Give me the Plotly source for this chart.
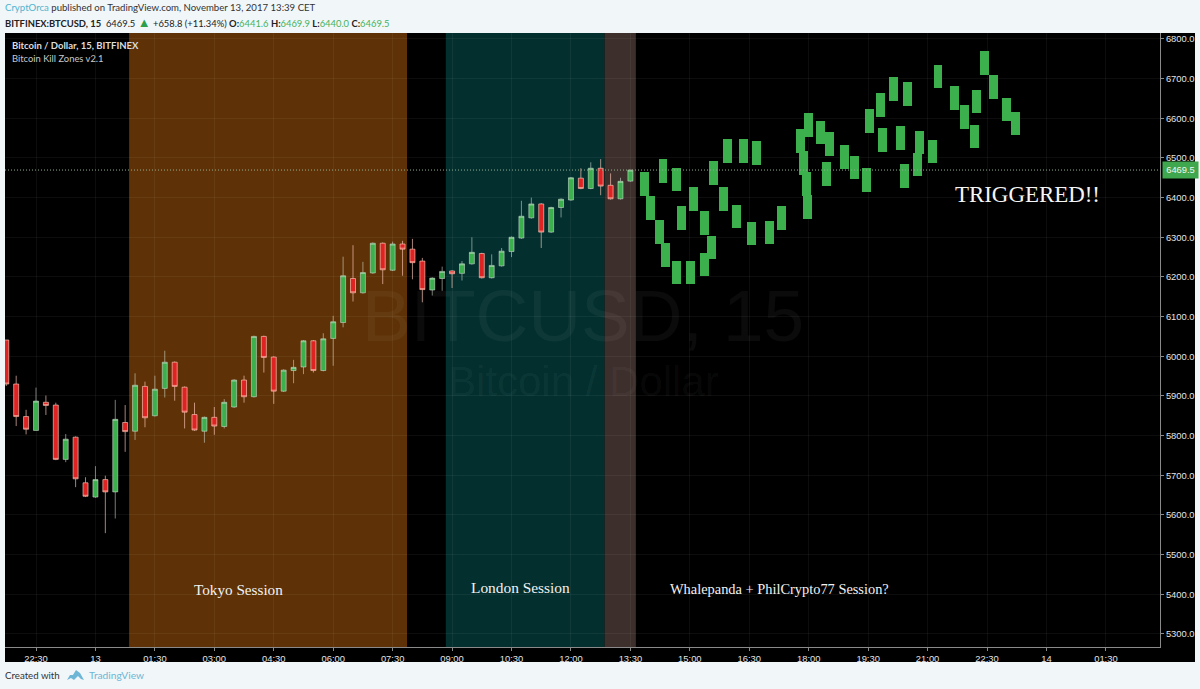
import plotly.graph_objects as go

# --- real 15-minute candles -------------------------------------------------
candle_index = list(range(-3, 61))
opens = [6041,5930,5848,5813,5884,5877,5740,5796,5681,5645,5689,5658,5833,5811,5924,5850,5919,5985,5922,5853,5811,5846,5823,5872,5940,5898,6050,5998,5912,5964,5973,6039,5964,6045,6085,6196,6160,6210,6285,6217,6283,6270,6240,6167,6196,6215,6209,6233,6259,6198,6228,6264,6298,6349,6384,6313,6375,6394,6449,6423,6474,6431,6397,6441.6]
highs = [6041,5951,5865,5921,5901,5883,5804,5798,5695,5723,5699,5890,5877,5957,5936,5951,6014,5987,5924,5883,5848,5872,5892,5942,5951,6052,6052,6000,5967,5991,6041,6041,6058,6102,6251,6280,6238,6287,6287,6289,6291,6296,6248,6199,6226,6217,6240,6300,6261,6257,6273,6302,6392,6400,6386,6377,6398,6452,6474,6489,6497,6461,6450,6469.9]
lows = [5925,5824,5803,5813,5852,5738,5733,5670,5645,5643,5554,5591,5759,5789,5821,5848,5896,5888,5818,5812,5782,5802,5818,5870,5883,5896,5959,5880,5910,5932,5955,5959,5962,5976,6073,6138,6158,6208,6182,6215,6203,6194,6136,6153,6165,6172,6191,6231,6196,6196,6226,6250,6296,6347,6273,6311,6350,6392,6421,6421,6406,6395,6395,6440]
closes = [5930,5848,5816,5887,5876,5740,5791,5691,5647,5689,5658,5841,5810,5927,5845,5917,5985,5924,5859,5814,5846,5824,5884,5940,5898,6050,5997,5912,5965,5972,6039,5964,6044,6087,6203,6160,6211,6285,6218,6283,6270,6236,6168,6197,6214,6208,6233,6262,6198,6229,6265,6300,6353,6384,6313,6375,6396,6450,6423,6474,6429,6397,6441,6469.5]

# --- hand-drawn green blocks that spell a message ---------------------------
block_x = [61.38,62.06,62.92,63.52,64.68,66.05,67.47,68.21,67.47,66.36,65.14,64.61,63.29,68.42,69.36,69.83,70.72,71.41,72.74,72.24,74.00,75.26,77.15,77.50,77.76,77.88,77.96,79.19,80.13,79.80,81.62,82.58,83.79,84.16,85.23,86.57,85.46,87.27,87.93,87.70,89.01,89.14,90.45,91.05,92.72,93.71,94.94,94.74,95.75,96.66,97.92,98.88]
block_high = [6464,6403,6344,6285,6241,6241,6261,6304,6365,6426,6378,6475,6497,6492,6426,6549,6382,6548,6543,6339,6342,6378,6573,6518,6464,6407,6613,6594,6566,6489,6533,6506,6474,6623,6665,6703,6575,6581,6692,6485,6513,6569,6546,6735,6682,6634,6671,6584,6770,6708,6651,6617]
block_low = [6405,6344,6284,6225,6182,6182,6202,6245,6306,6366,6319,6416,6437,6432,6366,6488,6323,6488,6483,6281,6282,6319,6513,6458,6405,6347,6554,6535,6506,6429,6473,6446,6414,6563,6604,6644,6515,6521,6632,6425,6454,6509,6487,6676,6622,6574,6613,6524,6710,6649,6592,6557]

# --- axes and zones ---------------------------------------------------------
x_tick_index = [0,6,12,18,24,30,36,42,48,54,60,66,72,78,84,90,96,102,108]
x_tick_labels = ["22:30","13","01:30","03:00","04:30","06:00","07:30","09:00","10:30","12:00","13:30","15:00","16:30","18:00","19:30","21:00","22:30","14","01:30"]
y_ticks = [5300,5400,5500,5600,5700,5800,5900,6000,6100,6200,6300,6400,6500,6600,6700,6800]
zones = [(9.4,37.45,"#5e3206"),(41.37,57.4,"#03302f"),(57.4,60.55,"#3d302c")]
last_price = 6469.5

PL, PR, PT, PB = 5, 1160, 33, 647
def px(v): return (v - PL) / (PR - PL)
def py(v): return (PB - v) / (PB - PT)

GREEN, RED = "#3bb04d", "#df2323"
fig = go.Figure()
fig.add_trace(go.Candlestick(
    x=candle_index, open=opens, high=highs, low=lows, close=closes,
    increasing=dict(fillcolor=GREEN, line=dict(color="rgba(215,225,215,0.55)", width=1)),
    decreasing=dict(fillcolor=RED, line=dict(color="rgba(255,200,185,0.65)", width=1)),
    whiskerwidth=0, hoverinfo="skip", showlegend=False))
fig.add_trace(go.Bar(
    x=block_x, base=block_low, y=[h - l for h, l in zip(block_high, block_low)],
    width=0.9, marker=dict(color=GREEN, line=dict(width=0)), hoverinfo="skip", showlegend=False))

shapes = [
    dict(type="rect", xref="paper", yref="paper", x0=0, x1=px(1195), y0=py(662), y1=1,
         fillcolor="#000000", line=dict(width=0), layer="below"),
]
for a, b, c in zones:
    shapes.append(dict(type="rect", xref="x", yref="paper", x0=a, x1=b, y0=0, y1=1,
                       fillcolor=c, line=dict(width=0), layer="below"))
shapes.append(dict(type="line", xref="paper", yref="y", x0=0, x1=1, y0=last_price, y1=last_price,
                   line=dict(color="#93ad8f", width=1, dash="1px,2px"), layer="above"))
# TradingView logo
def lp(x, y): return f"{px(x):.5f},{py(y):.5f}"
logo = ("M " + lp(67, 680) + " L " + lp(70, 675) + " L " + lp(73, 675) + " L " + lp(76, 670) + " L " + lp(80, 673)
        + " L " + lp(84, 680) + " L " + lp(81, 679) + " L " + lp(78, 676) + " L " + lp(74, 680) + " L " + lp(71, 678) + " Z")
shapes.append(dict(type="path", xref="paper", yref="paper", path=logo, fillcolor="#6db6d6", line=dict(width=0)))

def note(x, y, text, size, color, family, xanchor="left", **kw):
    return dict(xref="paper", yref="paper", x=px(x), y=py(y), text=text, showarrow=False,
                xanchor=xanchor, yanchor="middle", align="left",
                font=dict(size=size, color=color, family=family), borderpad=0, **kw)

SANS, SERIF, ARIAL = "Lato", "Liberation Serif", "Liberation Sans"
g = "#45b35a"
header2 = ('<b>BITFINEX:BTCUSD, 15</b>  6469.5 <span style="color:#2e9e48;font-size:13px">▲</span> +658.8 (+11.34%) '
           f'<b>O:</b><span style="color:{g}">6441.6</span> <b>H:</b><span style="color:{g}">6469.9</span> '
           f'<b>L:</b><span style="color:{g}">6440.0</span> <b>C:</b><span style="color:{g}">6469.5</span>')
wm = "rgba(255,255,255,0.045)"
annotations = [
    note(4, 8, '<span style="color:#4fb4cf">CryptOrca</span> published on TradingView.com, November 13, 2017 13:39 CET', 9.6, "#333333", SANS),
    note(4, 22, header2, 9.4, "#222222", SANS),
    note(11, 45, "<b>Bitcoin / Dollar, 15, BITFINEX</b>", 9.5, "#dddddd", SANS),
    note(11, 58, "Bitcoin Kill Zones v2.1", 9.4, "#c8c8c8", SANS),
    note(583, 315, "BITCUSD, 15", 73, wm, ARIAL, xanchor="center"),
    note(584, 381, "Bitcoin / Dollar", 42, wm, ARIAL, xanchor="center"),
    note(238, 589, "Tokyo Session", 15.2, "#f2f2f2", SERIF, xanchor="center"),
    note(520, 587, "London Session", 15.4, "#f2f2f2", SERIF, xanchor="center"),
    note(669, 589, "Whalepanda + PhilCrypto77 Session?", 14.4, "#f2f2f2", SERIF),
    note(954, 194, "TRIGGERED!!", 22.9, "#f5f5f5", SERIF),
    note(4, 675, "Created with", 9.7, "#333333", SANS),
    note(88, 675, "TradingView", 10.2, "#6db6d6", SANS),
    dict(xref="paper", yref="y", x=px(1162), y=last_price, text="6469.5", showarrow=False, xanchor="left",
         width=33, height=14, bgcolor="#3fa84f", font=dict(size=9.3, color="#f4f4f4", family=ARIAL)),
]

fig.update_layout(
    width=1200, height=689, autosize=False,
    margin=dict(l=PL, r=1200 - PR, t=PT, b=689 - PB, pad=0),
    paper_bgcolor="#f1f6f9", plot_bgcolor="#000000",
    barmode="overlay", boxgap=0.28, bargap=0, showlegend=False,
    shapes=shapes, annotations=annotations,
    xaxis=dict(range=[-3.129, 113.46], tickvals=x_tick_index, ticktext=x_tick_labels,
               rangeslider=dict(visible=False), showgrid=True, gridcolor="rgba(255,255,255,0.05)",
               gridwidth=1, zeroline=False, showline=True, linecolor="#8a8a8a", linewidth=1,
               ticks="outside", ticklen=3, tickcolor="#8a8a8a",
               tickfont=dict(size=9.4, color="#e4e4e4", family=ARIAL)),
    yaxis=dict(range=[5267, 6815], side="right", tickvals=y_ticks, tickformat=".1f",
               showgrid=True, gridcolor="rgba(255,255,255,0.05)", gridwidth=1, zeroline=False,
               showline=True, linecolor="#8a8a8a", linewidth=1, ticks="outside", ticklen=3,
               tickcolor="#8a8a8a", tickfont=dict(size=9.4, color="#e4e4e4", family=ARIAL)),
)

fig.write_html("out.html", config={"displayModeBar": False, "responsive": False},
               post_script="document.body.style.margin='0';document.body.style.overflow='hidden';")
